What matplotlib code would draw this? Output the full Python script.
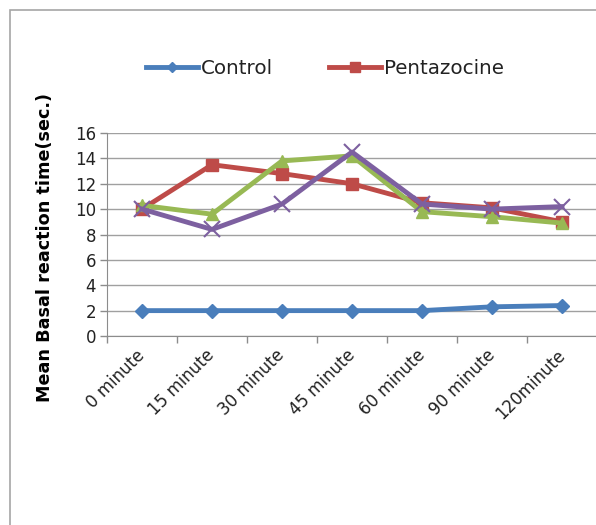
import numpy as np
import matplotlib.pyplot as plt
from matplotlib.lines import Line2D
from matplotlib.patches import Rectangle

categories = ['0 minute', '15 minute', '30 minute', '45 minute', '60 minute', '90 minute', '120minute']
control = [2.0, 2.0, 2.0, 2.0, 2.0, 2.3, 2.4]
pentazocine = [10.0, 13.5, 12.8, 12.0, 10.5, 10.1, 9.0]
series3 = [10.3, 9.6, 13.8, 14.2, 9.8, 9.4, 8.9]
series4 = [10.0, 8.4, 10.4, 14.5, 10.4, 10.0, 10.2]

W, H = 596, 525
fig = plt.figure(figsize=(W / 100, H / 100), dpi=100)

# chart border (cut off on the right and bottom)
fig.patches.append(Rectangle((10 / W, -0.1), 1.2, 1 - 10 / H + 0.1, transform=fig.transFigure,
                             fill=False, edgecolor='#a6a6a6', linewidth=1.2))

ax = fig.add_axes([107 / W, 1 - 336 / H, 490 / W, (336 - 133) / H])
x = np.arange(len(categories))

ax.plot(x, control, color='#4A7EBB', lw=3.5, marker='D', ms=7.5, label='Control', zorder=3)
ax.plot(x, pentazocine, color='#BE4B48', lw=3.5, marker='s', ms=8, label='Pentazocine', zorder=3)
ax.plot(x, series3, color='#98B954', lw=3.5, marker='^', ms=9, zorder=3)
ax.plot(x, series4, color='#7D60A0', lw=3.5, marker='x', ms=11, mew=1.5, zorder=4)

ax.set_xlim(-0.5, 6.5)
ax.set_ylim(0, 16)
ax.set_yticks(np.arange(0, 17, 2))
ax.set_xticks(np.arange(-0.5, 6.6, 1))
ax.set_xticklabels([])
ax.set_xticks(x, minor=True)
ax.set_xticklabels(categories, minor=True, rotation=45, ha='right', va='center',
                   rotation_mode='anchor', fontsize=12, color='#222222')
ax.tick_params(axis='x', which='minor', length=0, pad=12)
ax.tick_params(axis='x', which='major', length=5, color='#8c8c8c', width=1)
ax.tick_params(axis='y', length=5, color='#8c8c8c', width=1, labelsize=12, labelcolor='#222222', pad=3)
ax.grid(axis='y', color='#a0a0a0', lw=1)
ax.set_axisbelow(True)
for s in ['top', 'right']:
    ax.spines[s].set_visible(False)
for s in ['left', 'bottom']:
    ax.spines[s].set_color('#8c8c8c')

fig.text(45 / W, 1 - 248 / H, 'Mean Basal reaction time(sec.)', rotation=90, fontsize=12.7,
         fontweight='bold', ha='center', va='center')

handles = [Line2D([], [], color='#4A7EBB', lw=3.5, marker='D', ms=5),
           Line2D([], [], color='#BE4B48', lw=3.5, marker='s', ms=7)]
fig.legend(handles, ['Control', 'Pentazocine'], loc='center left', bbox_to_anchor=(146 / W, 1 - 68 / H),
           ncol=2, frameon=False, fontsize=14.3, handlelength=2.6, handletextpad=0.15,
           columnspacing=2.85, borderaxespad=0, borderpad=0, labelcolor='#222222')

fig.savefig('out.png', dpi=100)
